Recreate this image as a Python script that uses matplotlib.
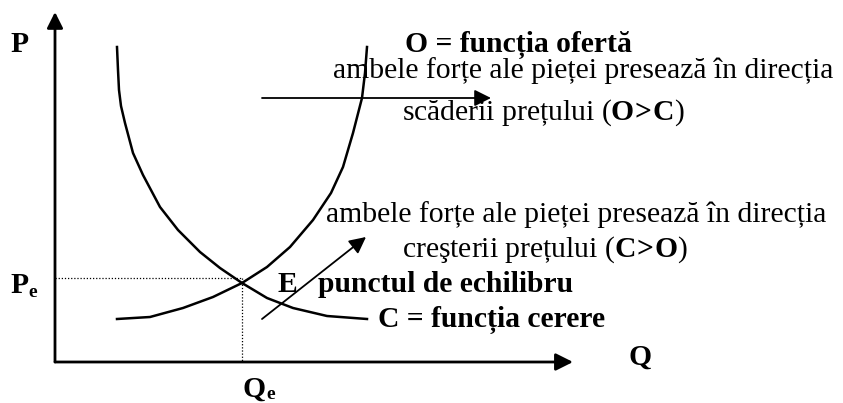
import matplotlib
matplotlib.use("Agg")
import matplotlib.pyplot as plt

# curve samples (x = quantity, y = price, in figure pixels, y grows downwards)
demand_x = [117, 118, 119, 121, 125, 133, 143, 160, 178, 200, 220, 242, 267, 293, 327, 367]
demand_y = [47, 70, 90, 106, 123, 153, 175, 207, 230, 252, 268, 283, 298, 308, 316, 319]
supply_x = [117, 150, 183, 213, 242, 267, 290, 313, 331, 343, 353, 362, 365, 367]
supply_y = [319, 317, 308, 297, 283, 267, 247, 220, 193, 167, 133, 98, 73, 47]

# equilibrium point and axes origin
eq_q, eq_p = 242, 278
origin = (55, 362)
x_axis_end = 573
y_axis_end = 12

# pressure arrows (start, end)
arrow_down = ((262, 98), (491, 98))
arrow_up = ((262, 319), (366, 237))

FS = 21.3
plt.rcParams['font.family'] = ['Liberation Serif', 'DejaVu Serif']
plt.rcParams['mathtext.fontset'] = 'custom'
plt.rcParams['mathtext.rm'] = 'Liberation Serif'
plt.rcParams['mathtext.bf'] = 'Liberation Serif:bold'

fig = plt.figure(figsize=(8.43, 4.03), dpi=100)
ax = fig.add_axes([0, 0, 1, 1])
ax.set_xlim(0, 843)
ax.set_ylim(403, 0)
ax.axis('off')

def arrow(start, end, lw, scale):
    ax.annotate("", xy=end, xytext=start,
                arrowprops=dict(arrowstyle='-|>,head_length=0.4,head_width=0.2',
                                lw=lw, color='black', mutation_scale=scale,
                                shrinkA=0, shrinkB=0))

# axes
arrow(origin, (origin[0], y_axis_end), 2.0, 24)
arrow(origin, (x_axis_end, origin[1]), 2.0, 26)

# supply and demand curves
ax.plot(demand_x, demand_y, color='black', lw=1.8, solid_joinstyle='round')
ax.plot(supply_x, supply_y, color='black', lw=1.8, solid_joinstyle='round')

# dotted guides to the equilibrium
ax.plot([origin[0], eq_q], [eq_p, eq_p], color='black', lw=0.9, ls=(0, (1, 1.5)))
ax.plot([eq_q, eq_q], [eq_p, origin[1]], color='black', lw=0.9, ls=(0, (1, 1.5)))

arrow(*arrow_down, 1.3, 25)
arrow(*arrow_up, 1.3, 25)

# axis labels
ax.text(10, 52, "P", fontsize=FS, fontweight='bold', va='baseline')
ax.text(10, 293, "P", fontsize=FS, fontweight='bold', va='baseline')
ax.text(28, 297, "e", fontsize=14, fontweight='bold', va='baseline')
ax.text(243, 397, "Q", fontsize=FS, fontweight='bold', va='baseline')
ax.text(266, 399, "e", fontsize=14, fontweight='bold', va='baseline')
ax.text(628, 365, "Q", fontsize=FS, fontweight='bold', va='baseline')

# annotations (\! cancels the relation spacing mathtext puts around ">")
ax.text(405, 52, "O = funcția ofertă", fontsize=FS, fontweight='bold', va='baseline')
ax.text(333, 78, "ambele forțe ale pieței presează în direcția", fontsize=FS, va='baseline')
ax.text(402, 120, r"scăderii prețului ($\mathbf{O}\!\mathbf{>}\!\mathbf{C}$)",
        fontsize=FS, va='baseline')
ax.text(326, 222, "ambele forțe ale pieței presează în direcția", fontsize=FS, va='baseline')
ax.text(402, 257, r"creşterii prețului ($\mathbf{C}\!\mathbf{>}\!\mathbf{O}$)",
        fontsize=FS, va='baseline')
ax.text(277, 292, "E", fontsize=FS, fontweight='bold', va='baseline')
ax.text(318, 292, "punctul de echilibru", fontsize=FS, fontweight='bold', va='baseline')
ax.text(378, 327, "C = funcția cerere", fontsize=FS, fontweight='bold', va='baseline')

fig.savefig("out.png", dpi=100)
